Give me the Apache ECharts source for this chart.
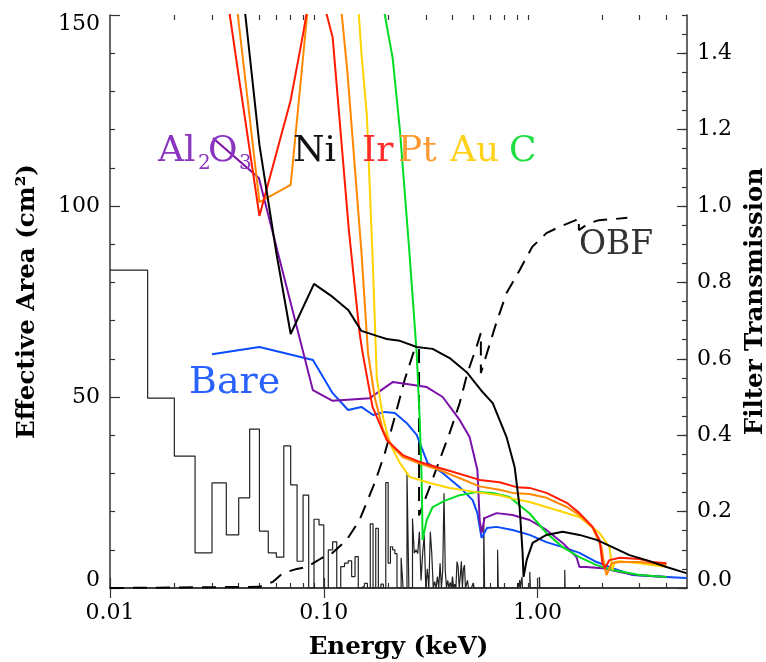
<!DOCTYPE html>
<html><head><meta charset="utf-8">
<script src="https://cdn.jsdelivr.net/npm/echarts@6/dist/echarts.min.js"></script>
<style>html,body{margin:0;padding:0;background:#fff;overflow:hidden}#c{width:766px;height:662px}</style>
</head><body><div id="c"></div>
<script>
// ---------- data ----------
const niE = [0.040,0.050,0.060,0.070,0.090,0.110,0.130,0.150,0.177,0.197,0.227,0.272,0.323,0.388,0.466,0.553,0.617,0.716,0.781,0.824,0.851,0.860,0.889,0.948,1.10,1.31,1.57,1.89,2.24,2.69,3.23,4.01,4.96];
const niA = [166,116,87.7,66.5,79.6,76.2,72.8,67.3,66.0,65.2,64.7,63.1,62.6,60.2,56.5,51.3,48.4,39.5,31.7,21.2,9.2,2.9,7.3,11.8,13.9,14.7,13.9,12.6,10.7,8.6,7.3,5.5,3.9];

const irE = [0.030,0.040,0.050,0.070,0.080,0.090,0.100,0.110,0.131,0.147,0.152,0.169,0.197,0.234,0.281,0.348,0.376,0.536,0.664,0.798,0.918,1.10,1.37,1.57,1.81,1.95,2.01,2.06,2.17,2.42,3.00,3.44,4.01];
const irA = [182,134,97.4,127.7,145,162,153,144.2,93.7,66.8,61.5,47.4,38.7,34.8,33.0,31.4,30.9,28.3,27.7,26.4,26.2,24.9,22.3,19.6,16.0,12.6,6.5,5.2,7.3,7.9,7.6,6.8,6.5];

const ptE = [0.030,0.040,0.050,0.070,0.080,0.090,0.100,0.110,0.120,0.129,0.150,0.161,0.173,0.189,0.210,0.234,0.281,0.348,0.536,0.664,0.764,0.918,1.10,1.37,1.57,1.81,1.99,2.06,2.10,2.22,2.42,3.00,4.01];
const ptA = [210,148,101,105.5,139,169,185,170,153,135,88,61.5,50,41.4,36.9,34.3,32.6,30.9,26.6,25.7,24.9,24.6,23.6,21.2,19.1,15.7,10.7,5.5,3.4,6.5,6.8,6.8,6.0];

const auE = [0.140,0.150,0.159,0.169,0.177,0.189,0.203,0.227,0.252,0.313,0.388,0.518,0.664,0.764,0.918,1.10,1.57,1.95,2.17,2.24,2.29,2.42,3.00,4.01];
const auA = [165,140,123.8,87.2,55,44.8,38,32.7,29.1,27.5,26.2,25.1,24.3,23.4,22.5,21.2,18.6,14.4,10.7,4.7,6.8,7.0,6.5,5.5];

const cE = [0.170,0.193,0.210,0.227,0.252,0.272,0.281,0.287,0.290,0.303,0.323,0.367,0.432,0.518,0.617,0.739,0.918,1.10,1.31,1.57,1.89,2.24,3.00,4.01];
const cA = [165,150,138.7,119.9,87.2,61.5,44.0,28.3,12.6,17.8,21.2,22.8,24.3,25.1,24.9,23.8,19.5,14.4,10.7,8.1,6.0,4.7,3.4,2.9];

const alE = [0.0303,0.0497,0.0889,0.110,0.164,0.210,0.244,0.303,0.360,0.432,0.481,0.523,0.536,0.547,0.565,0.643,0.764,0.918,1.10,1.31,1.52,1.57,1.69,2.01,2.42,2.90,4.01];
const alA = [117.8,107.3,51.8,49.0,49.7,53.9,53.4,52.6,50,44,39.5,30.9,17.8,14.4,18.3,19.6,19.1,17.8,15.2,11.8,8.1,5.5,5.5,5.2,4.2,3.4,2.9];

const bareE = [0.030,0.050,0.089,0.110,0.130,0.150,0.170,0.193,0.215,0.244,0.272,0.306,0.330,0.360,0.432,0.497,0.523,0.547,0.580,0.643,0.764,0.918,1.10,1.31,1.57,1.89,2.24,2.78,4.01,4.96];
const bareA = [61.2,63.1,59.7,51.0,46.6,47.4,45.3,46.1,45.8,43.2,40.1,32.7,31.5,30.1,26.4,23.0,19.6,13.1,15.7,16.0,15.2,13.9,12.0,10.7,9.2,6.8,5.2,3.4,2.9,2.6];

// OBF filter transmission (right axis)
const obfE = [0.010,0.050,0.0577,0.0643,0.0748,0.0832,0.0979,0.110,0.128,0.147,0.173,0.193,0.215,0.239,0.265,0.279,0.279,0.313,0.348,0.388,0.432,0.470,0.518,0.543,0.543,0.641,0.716,0.824,0.944,1.10,1.26,1.51,1.56,1.56,1.74,1.94,2.30,2.63];
const obfT = [0,0.003,0.016,0.039,0.050,0.055,0.0785,0.092,0.126,0.178,0.275,0.353,0.448,0.545,0.623,0.63,0.19,0.264,0.335,0.406,0.484,0.563,0.631,0.668,0.563,0.694,0.772,0.832,0.893,0.929,0.945,0.963,0.969,0.937,0.955,0.963,0.966,0.969];

// source spectrum histogram, bins of 0.005 keV starting at 0.010 keV
const specStart = 0.010;
const specWidth = 0.005;
const specValues = [
 83.2,49.7,34.5,9.2,27.5,13.9,23.6,41.6,14.9,9.2,
 8.1,37.2,27.0,7.0,24.3,0,18.0,16.5,0,10.0,
 12.1,0,5.6,6.5,7.1,3.0,8.2,0,0.5,1.2,
 0,16.8,0,15.6,0,1.0,0,27.6,6.5,10.8,
 10.0,9.0,0,0,7.9,0,0,30.2,0,0,
 18.2,9.1,10.0,9.0,14.7,2.0,9.0,13.9,0,5.0,
 0,14.7,9.0,0,1.7,0,3.0,0,6.5,0,
 4.5,24.8,4.5,0,2.0,0,1.5,0,3.0,0,
 1.0,0,6.9,5.5,0,3.0,7.0,0,5.0,6.0,
 0,0,2.0,0,0,0,0,0,1.3,0
];
// isolated narrow lines at higher energy (bin start, value)
const lineE = [0.560,0.650,0.810,0.825,0.845,0.920,1.020,1.340,1.570];
const lineV = [18.5,10.0,1.3,2.1,2.9,4.2,2.9,4.7,0.8];

// tick labels / tick positions
const xMajor = [0.01,0.1,1];
const xMinor = [0.02,0.03,0.04,0.05,0.06,0.07,0.08,0.09,0.2,0.3,0.4,0.5,0.6,0.7,0.8,0.9,2,3,4];

// ---------- build ----------
const pairs = (xs, ys) => xs.map((x, i) => [x, ys[i]]);
const specData = specValues.map((v, i) => [specStart + i * specWidth, v]);
specData.push([specStart + specValues.length * specWidth, 0]);
lineE.forEach((e, i) => { specData.push([e, lineV[i]]); specData.push([e + specWidth, 0]); });

const FONT = 'DejaVu Serif';
const axisCol = '#333';
const chart = echarts.init(document.getElementById('c'), null, {renderer: 'canvas'});

function lineSeries(name, data, color, extra) {
  return Object.assign({
    name, type: 'line', data, showSymbol: false, symbol: 'none',
    lineStyle: {color, width: 2}, itemStyle: {color},
    xAxisIndex: 0, yAxisIndex: 0, clip: true, silent: true, z: 3
  }, extra || {});
}

const xBase = {type: 'log', logBase: 10, min: 0.01, max: 5, gridIndex: 0, splitLine: {show: false}};
const tickLab = {fontFamily: FONT, fontSize: 22, color: '#000'};
const titleStyle = {fontFamily: FONT, fontSize: 24.5, fontWeight: 'bold', color: '#000'};
const edgeRich = {
  dn: {fontFamily: FONT, fontSize: 22, color: '#000', padding: [19, 0, 0, 0]},
  up: {fontFamily: FONT, fontSize: 22, color: '#000', padding: [0, 0, 16, 0]}
};

function label(text, x, y, size, fill) {
  return {type: 'text', x, y, z: 10, style: {text, font: size + 'px "DejaVu Serif"', fill, verticalAlign: 'middle'}};
}

const option = {
  animation: false,
  backgroundColor: '#fff',
  grid: {left: 110, top: 15, right: 79, bottom: 74, containLabel: false, outerBoundsMode: 'none'},
  xAxis: [
    Object.assign({}, xBase, {
      position: 'bottom',
      axisLine: {show: true, lineStyle: {color: axisCol, width: 1.5}},
      axisTick: {show: true, inside: true, length: 10, lineStyle: {color: axisCol, width: 1.2}, customValues: xMajor},
      axisLabel: Object.assign({show: true, margin: 14, customValues: xMajor, formatter: v => Number(v).toFixed(2)}, tickLab),
      name: 'Energy (keV)', nameLocation: 'middle', nameGap: 47,
      nameTextStyle: titleStyle
    }),
    Object.assign({}, xBase, {
      position: 'bottom',
      axisLine: {show: false},
      axisTick: {show: true, inside: true, length: 5, lineStyle: {color: axisCol, width: 1.2}, customValues: xMinor},
      axisLabel: {show: false}
    }),
    Object.assign({}, xBase, {
      position: 'top',
      axisLine: {show: true, lineStyle: {color: axisCol, width: 1.5}},
      axisTick: {show: true, inside: true, length: 10, lineStyle: {color: axisCol, width: 1.2}, customValues: xMajor},
      axisLabel: {show: false}
    }),
    Object.assign({}, xBase, {
      position: 'top',
      axisLine: {show: false},
      axisTick: {show: true, inside: true, length: 5, lineStyle: {color: axisCol, width: 1.2}, customValues: xMinor},
      axisLabel: {show: false}
    })
  ],
  yAxis: [
    {
      type: 'value', min: 0, max: 150, interval: 50, position: 'left',
      splitLine: {show: false},
      axisLine: {show: true, lineStyle: {color: axisCol, width: 1.5}},
      axisTick: {show: true, inside: true, length: 10, lineStyle: {color: axisCol, width: 1.2}},
      minorTick: {show: true, splitNumber: 5, length: 5, lineStyle: {color: axisCol, width: 1.2}},
      axisLabel: Object.assign({margin: 10, rich: edgeRich,
        formatter: v => v === 150 ? '{dn|150}' : (v === 0 ? '{up|0}' : String(v))}, tickLab),
      name: 'Effective Area (cm²)', nameLocation: 'middle', nameGap: 70, nameRotate: 90,
      nameTextStyle: titleStyle
    },
    {
      type: 'value', min: 0, max: 1.5, interval: 0.2, position: 'right',
      splitLine: {show: false},
      axisLine: {show: true, lineStyle: {color: axisCol, width: 1.5}},
      axisTick: {show: true, inside: true, length: 10, lineStyle: {color: axisCol, width: 1.2}},
      axisLabel: Object.assign({margin: 10, showMaxLabel: false, rich: edgeRich,
        formatter: v => v === 0 ? '{up|0.0}' : Number(v).toFixed(1)}, tickLab),
      name: 'Filter Transmission', nameLocation: 'middle', nameGap: 54, nameRotate: 90,
      nameTextStyle: titleStyle
    },
    {
      type: 'value', min: 0, max: 1.5, interval: 0.05, position: 'right',
      splitLine: {show: false},
      axisLine: {show: false},
      axisTick: {show: true, inside: true, length: 5, lineStyle: {color: axisCol, width: 1.2}},
      axisLabel: {show: false}
    }
  ],
  series: [
    lineSeries('spectrum', specData, '#222', {step: 'end', lineStyle: {color: '#222', width: 1.2}, z: 2}),
    lineSeries('OBF', pairs(obfE, obfT), '#000', {yAxisIndex: 1, lineStyle: {color: '#000', width: 2, type: [14, 9]}}),
    lineSeries('Bare', pairs(bareE, bareA), '#0a4cff'),
    lineSeries('Al2O3', pairs(alE, alA), '#7a10a8'),
    lineSeries('C', pairs(cE, cA), '#00dd22'),
    lineSeries('Au', pairs(auE, auA), '#ffd400'),
    lineSeries('Pt', pairs(ptE, ptA), '#ff8800'),
    lineSeries('Ir', pairs(irE, irA), '#ff1a00'),
    lineSeries('Ni', pairs(niE, niA), '#000')
  ],
  graphic: [
    label('Al', 158, 152, 36, '#8a35c0'),
    label('2', 198, 164, 20, '#8a35c0'),
    label('O', 208, 152, 36, '#8a35c0'),
    label('3', 239, 164, 20, '#8a35c0'),
    label('Ni', 293, 152, 36, '#111'),
    label('Ir', 362, 152, 36, '#ff2a2a'),
    label('Pt', 398, 152, 36, '#ff9933'),
    label('Au', 450, 152, 36, '#ffd21a'),
    label('C', 509, 152, 36, '#22dd44'),
    label('Bare', 189, 383, 38, '#2962ff'),
    label('OBF', 579, 245, 33, '#333')
  ]
};
chart.setOption(option);
</script>
</body></html>
